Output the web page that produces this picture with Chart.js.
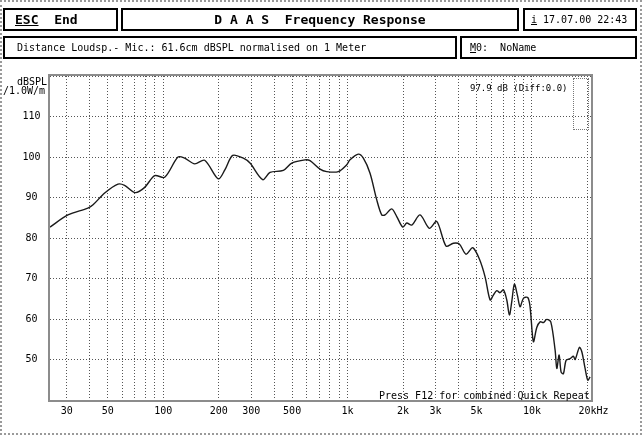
<!DOCTYPE html>
<html>
<head>
<meta charset="utf-8">
<script src="https://cdn.jsdelivr.net/npm/chart.js@4/dist/chart.umd.min.js"></script>
<style>
body { margin: 0; background: #fff; }
#page { position: relative; width: 642px; height: 435px; overflow: hidden; font-family: "DejaVu Sans Mono", monospace; color: #000; }
#frame { position: absolute; left: 0; top: 0; width: 638px; height: 431px; border: 2px dotted #9a9a9a; }
.box { position: absolute; border: 2px solid #000; box-sizing: border-box; height: 23px; line-height: 19px; font-size: 11px; white-space: pre; }
.lbl { position: absolute; font-size: 10px; line-height: 12px; white-space: pre; }
#sidebox { position: absolute; left: 573px; top: 78px; width: 14px; height: 50px; border: 1px dotted #777; }
canvas { position: absolute; left: 0; top: 0; }
u { text-decoration: underline; }
</style>
</head>
<body>
<div id="page">
  <canvas id="respChart" width="642" height="435"></canvas>
  <div id="frame"></div>
  <div class="box" style="left:3px;top:8px;width:115px;padding-left:10px;font-weight:bold;font-size:13px;"><u>ESC</u>  End</div>
  <div class="box" style="left:121px;top:8px;width:398px;text-align:center;font-weight:bold;font-size:13px;">D A A S  Frequency Response</div>
  <div class="box" style="left:523px;top:8px;width:114px;padding-left:6px;font-size:10px;"><u>i</u> 17.07.00 22:43</div>
  <div class="box" style="left:3px;top:36px;width:454px;padding-left:12px;font-size:10px;">Distance Loudsp.- Mic.: 61.6cm dBSPL normalised on 1 Meter</div>
  <div class="box" style="left:460px;top:36px;width:177px;padding-left:8px;font-size:10px;"><u>M</u>0:  NoName</div>
  <div class="lbl" style="left:17px;top:76px;">dBSPL</div>
  <div class="lbl" style="left:3px;top:85px;">/1.0W/m</div>
  <div class="lbl" style="left:470px;top:82px;font-size:9px;">97.9 dB (Diff:0.0)</div>
  <div id="sidebox"></div>
  <div class="lbl" style="left:379px;top:390px;">Press F12 for combined Quick Repeat</div>
</div>
<script>
// fréquences (Hz) et niveaux (dBSPL)
const freqs = [24.3, 30.4, 39, 41.6, 48.1, 56.8, 61.7, 70.5, 79.3, 89.8, 101.8, 120.2, 130.7, 148.1, 167.7,
  198.8, 216.2, 238, 271.8, 295.4, 346.2, 379.3, 447.8, 497.5, 587.3, 625.2, 708.5, 770.2, 890.4, 988.8,
  1030, 1143, 1217, 1323, 1439, 1531, 1596, 1735, 1847, 1991, 2093, 2228, 2471, 2775, 3044, 3420, 3746,
  4037, 4390, 4774, 5184, 5567, 5925, 6174, 6442, 6714, 6997, 7300, 7541, 7770, 8026, 8333, 8619, 8982,
  9489, 9766, 10177, 10617, 11066, 11533, 12034, 12648, 13350, 13636, 14035, 14389, 14809, 15316, 16101,
  16779, 17140, 18085, 18635, 19414, 20082, 20668];
const levels = [82.7, 85.7, 87.4, 88.2, 91.1, 93.3, 93.0, 91.2, 92.5, 95.4, 95.0, 100.0, 99.7, 98.3, 99.2,
  94.6, 96.9, 100.4, 99.7, 98.5, 94.4, 96.2, 96.7, 98.5, 99.3, 99.1, 97.0, 96.4, 96.4, 98.1,
  99.3, 100.7, 99.7, 96.0, 89.4, 85.7, 85.7, 87.2, 85.3, 82.7, 83.7, 83.2, 85.7, 82.4, 84.1, 78.0, 78.7,
  78.5, 76.0, 77.6, 74.8, 70.4, 64.7, 65.9, 67.0, 66.5, 67.2, 64.7, 61.0, 64.3, 68.6, 65.9, 63.0, 65.1,
  65.3, 63.0, 54.4, 57.9, 59.3, 59.1, 59.9, 59.3, 52.3, 47.8, 51.1, 46.9, 46.5, 49.8, 50.2,
  50.8, 50.0, 53.0, 51.9, 47.8, 44.9, 45.7];

// grille et étiquettes de l'axe des fréquences
const xGridValues = [30, 40, 50, 60, 70, 80, 90, 100, 200, 300, 400, 500, 600, 700, 800, 900,
  1000, 2000, 3000, 4000, 5000, 6000, 7000, 8000, 9000, 10000, 20000];
const xLabelValues = [30, 50, 100, 200, 300, 500, 1000, 2000, 3000, 5000, 10000, 20000];
const xLabelTexts = ['30', '50', '100', '200', '300', '500', '1k', '2k', '3k', '5k', '10k', '  20kHz'];
const yLabelValues = [50, 60, 70, 80, 90, 100, 110];

// cadre gris autour de la zone du graphe
const plotFrame = {
  id: 'plotFrame',
  afterDraw(chart) {
    const a = chart.chartArea, c = chart.ctx;
    c.save();
    c.strokeStyle = '#8c8c8c';
    c.lineWidth = 2;
    c.strokeRect(a.left - 1, a.top - 1, a.right - a.left + 2, a.bottom - a.top + 2);
    c.restore();
  }
};

const ctx = document.getElementById('respChart').getContext('2d');
const respChart = new Chart(ctx, {
  type: 'line',
  data: {
    datasets: [{
      data: freqs.map((f, i) => ({ x: f, y: levels[i] })),
      borderColor: '#1a1a1a',
      borderWidth: 1.4,
      pointRadius: 0,
      tension: 0.3,
      fill: false
    }]
  },
  options: {
    responsive: false,
    animation: false,
    devicePixelRatio: 1,
    layout: { padding: { left: 0, right: 51, top: 76, bottom: 0 } },
    plugins: { legend: { display: false }, tooltip: { enabled: false } },
    scales: {
      x: {
        type: 'logarithmic',
        min: 24.3,
        max: 20900,
        bounds: 'data',
        afterBuildTicks: s => { s.ticks = xGridValues.map(v => ({ value: v })); },
        afterFit: s => { s.height = 35; },
        ticks: {
          autoSkip: false,
          maxRotation: 0,
          minRotation: 0,
          padding: 5,
          color: '#000',
          font: { family: 'DejaVu Sans Mono', size: 10 },
          callback: v => {
            const i = xLabelValues.indexOf(v);
            return i < 0 ? '' : xLabelTexts[i];
          }
        },
        grid: { color: '#555', drawTicks: false },
        border: { display: false, dash: [1, 2] }
      },
      y: {
        min: 40,
        max: 120,
        afterFit: s => { s.width = 50; },
        ticks: {
          stepSize: 10,
          crossAlign: 'center',
          padding: 9.5,
          color: '#000',
          font: { family: 'DejaVu Sans Mono', size: 10 },
          callback: v => yLabelValues.includes(v) ? String(v) : ''
        },
        grid: { color: '#555', drawTicks: false },
        border: { display: false, dash: [1, 2] }
      }
    }
  },
  plugins: [plotFrame]
});
</script>
</body>
</html>
